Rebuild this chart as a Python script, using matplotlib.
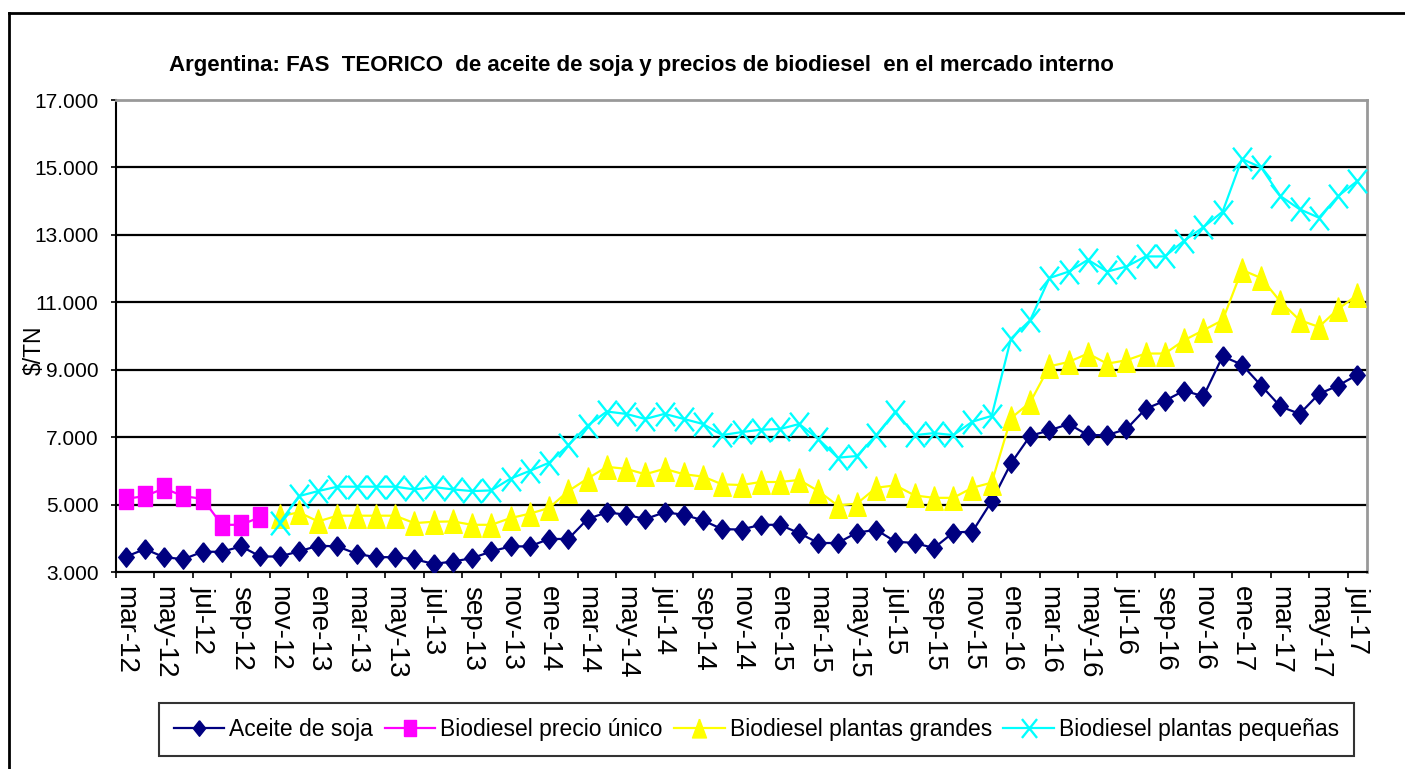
"""
Argentina: FAS teorico de aceite de soja y precios de biodiesel (mercado interno).
Recreated as a line chart with Excel-like styling.
"""

import matplotlib
matplotlib.use("Agg")
import matplotlib.pyplot as plt
from matplotlib.lines import Line2D
from matplotlib.path import Path
from matplotlib.ticker import FuncFormatter, FixedLocator
import numpy as np

FONT = "Liberation Sans"

plt.rcParams.update({
    "font.family": [FONT, "DejaVu Sans"],
    "figure.facecolor": "white",
    "axes.facecolor": "white",
})

# ── data ─────────────────────────────────────────────────────────────────
MESES = ["ene", "feb", "mar", "abr", "may", "jun",
         "jul", "ago", "sep", "oct", "nov", "dic"]
# mar-12 .. jul-17, monthly
periodos = [f"{MESES[(m - 1) % 12]}-{12 + (m - 1) // 12}" for m in range(3, 3 + 65)]

aceite_soja = [
    3450, 3680, 3440, 3380, 3600, 3600, 3760, 3460, 3460, 3610,
    3780, 3760, 3540, 3440, 3440, 3380, 3240, 3310, 3410, 3610,
    3760, 3760, 3980, 3980, 4570, 4770, 4700, 4570, 4770, 4700,
    4530, 4270, 4260, 4400, 4400, 4150, 3860, 3860, 4170, 4250,
    3900, 3860, 3710, 4170, 4200, 5100, 6220, 7040, 7200, 7390,
    7060, 7060, 7240, 7840, 8080, 8380, 8210, 9400, 9150, 8530,
    7910, 7690, 8280, 8530, 8850,
]

# only mar-12 .. oct-12
biodiesel_unico = [5170, 5250, 5480, 5250, 5170, 4400, 4400, 4630]

# from nov-12 onwards
biodiesel_grandes = [
    4650, 4770, 4500, 4670, 4670, 4670, 4670, 4450, 4490, 4500,
    4400, 4400, 4600, 4730, 4900, 5400, 5770, 6120, 6060, 5900,
    6060, 5900, 5830, 5600, 5580, 5670, 5670, 5730, 5400, 4970,
    5030, 5500, 5570, 5270, 5200, 5200, 5500, 5650, 7560, 8035,
    9100, 9230, 9480, 9180, 9280, 9480, 9480, 9875, 10170, 10470,
    11960, 11720, 11020, 10470, 10270, 10800, 11220,
]

biodiesel_pequenas = [
    4450, 5250, 5400, 5530, 5530, 5530, 5530, 5450, 5520, 5450,
    5400, 5420, 5770, 6000, 6240, 6760, 7340, 7760, 7690, 7540,
    7690, 7540, 7390, 7060, 7150, 7220, 7240, 7390, 6940, 6390,
    6440, 7060, 7760, 7060, 7120, 7060, 7460, 7630, 9920, 10470,
    11720, 11910, 12260, 11910, 12060, 12360, 12360, 12830, 13230, 13690,
    15250, 15000, 14150, 13760, 13510, 14150, 14600,
]

# ── markers (Excel shapes are a bit taller than wide) ───────────────────
diamond = Path([(0, 1), (0.8, 0), (0, -1), (-0.8, 0), (0, 1)])
square = Path([(-0.7, -1), (0.7, -1), (0.7, 1), (-0.7, 1), (-0.7, -1)])
triangle = Path([(0, 1), (0.74, -1), (-0.74, -1), (0, 1)])
cross = Path([(-0.8, -1), (0.8, 1), (-0.8, 1), (0.8, -1)],
             [Path.MOVETO, Path.LINETO, Path.MOVETO, Path.LINETO])

n = len(periodos)
x = np.arange(n)
start_big = n - len(biodiesel_grandes)

fig = plt.figure(figsize=(14.05, 7.69), dpi=100)
ax = fig.add_axes([116 / 1405, 1 - 572 / 769, (1367 - 116) / 1405, (572 - 100) / 769])

ax.plot(x, aceite_soja, color="#000080", lw=1.6, marker=diamond, ms=14,
        mfc="#000080", mec="#000080", label="Aceite de soja", zorder=3)
ax.plot(x[:len(biodiesel_unico)], biodiesel_unico, color="#FF00FF", lw=1.6,
        marker=square, ms=15, mfc="#FF00FF", mec="#FF00FF",
        label="Biodiesel precio único", zorder=4)
ax.plot(x[start_big:], biodiesel_grandes, color="#FFFF00", lw=1.6,
        marker=triangle, ms=17, mfc="#FFFF00", mec="#FFFF00",
        label="Biodiesel plantas grandes", zorder=5)
ax.plot(x[start_big:], biodiesel_pequenas, color="#00FFFF", lw=1.6,
        marker=cross, ms=17, mfc="none", mec="#00FFFF", mew=1.7,
        label="Biodiesel plantas pequeñas", zorder=6)

# axes
ax.set_xlim(-0.5, n - 0.5)
ax.set_ylim(3000, 17000)
ax.set_yticks(np.arange(3000, 17001, 2000))
ax.yaxis.set_major_formatter(FuncFormatter(lambda v, _: f"{int(v):,}".replace(",", ".")))
ax.tick_params(axis="y", direction="out", length=3.6, width=1.2, pad=9,
               labelsize=15, colors="black")

ax.xaxis.set_major_locator(FixedLocator(x[::2]))
ax.set_xticklabels(periodos[::2], rotation=-90, ha="center", va="top", fontsize=20)
ax.xaxis.set_minor_locator(FixedLocator(np.arange(-0.5, n, 2)))
ax.tick_params(axis="x", which="major", length=0, pad=10)
ax.tick_params(axis="x", which="minor", direction="out", length=4.5, width=1.2)

for y in range(5000, 16000, 2000):
    ax.axhline(y, color="black", lw=1.6, zorder=1)

ax.spines["left"].set_color("black")
ax.spines["left"].set_linewidth(1.5)
ax.spines["bottom"].set_color("black")
ax.spines["bottom"].set_linewidth(1.6)
ax.spines["top"].set_color("#999999")
ax.spines["top"].set_linewidth(2)
ax.spines["right"].set_color("#999999")
ax.spines["right"].set_linewidth(2)

ax.set_ylabel("$/TN", fontsize=16.5, labelpad=0)
ax.yaxis.set_label_coords(-70 / 1251, 0.47)

fig.text(641 / 1405, 1 - 65 / 769,
         "Argentina: FAS  TEORICO  de aceite de soja y precios de biodiesel  en el mercado interno",
         ha="center", va="center", fontsize=16, fontweight="bold")

leg = fig.legend(loc="center", bbox_to_anchor=(756.5 / 1405, 1 - 729.5 / 769),
                 ncol=4, fontsize=16.5, frameon=True, fancybox=False,
                 handlelength=2.2, handletextpad=0.22, columnspacing=0.5,
                 borderpad=0.65, markerscale=0.8)
leg.get_frame().set_edgecolor("black")
leg.get_frame().set_linewidth(1.5)

# outer chart-area border (top and left visible)
fig.add_artist(Line2D([9 / 1405, 1], [1 - 13 / 769, 1 - 13 / 769],
                      transform=fig.transFigure, color="black", lw=2))
fig.add_artist(Line2D([9 / 1405, 9 / 1405], [0, 1 - 13 / 769],
                      transform=fig.transFigure, color="black", lw=2))

fig.savefig("out.png", dpi=100)
